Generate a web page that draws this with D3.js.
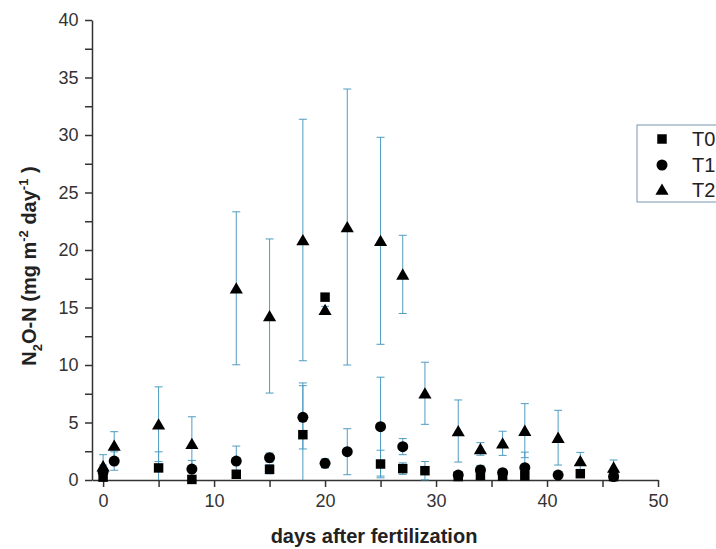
<!DOCTYPE html>
<html><head><meta charset="utf-8">
<script src="https://cdn.jsdelivr.net/npm/d3@7"></script>
<style>html,body{margin:0;padding:0;background:#fff;}</style>
</head><body>
<script>
const days = [0,1,5,8,12,15,18,20,22,25,27,29,32,34,36,38,41,43,46];
const T0 = [0.25,null,1.05,0.05,0.5,0.93,3.94,15.9,null,1.39,0.99,0.81,0.3,0.4,0.35,0.37,null,0.55,0.3];
const T0err = [0.3,null,1.4,0.1,0.3,0.4,4.5,0.2,null,1.2,0.5,0.8,0.3,0.3,0.3,0.3,null,0.2,0.2];
const T1 = [0.7,1.65,null,0.95,1.65,1.94,5.45,1.45,2.46,4.64,2.9,null,0.43,0.87,0.64,1.07,0.43,null,0.3];
const T1err = [0.6,0.8,null,0.75,1.3,0.4,2.75,0.4,2.0,4.3,0.7,null,0.3,0.4,0.3,1.35,0.3,null,0.2];
const T2 = [1.2,3.0,4.85,3.15,16.67,14.26,20.87,14.8,22.0,20.8,17.88,7.54,4.26,2.7,3.19,4.29,3.68,1.65,1.1];
const T2err = [1.0,1.2,3.25,2.35,6.65,6.7,10.5,0.3,12.0,9.0,3.4,2.7,2.7,0.55,1.05,2.35,2.38,0.75,0.64];
const seriesNames = ["T0","T1","T2"];
const xTicks = [0,10,20,30,40,50];
const yTicks = [0,5,10,15,20,25,30,35,40];

const W = 716, H = 549;
const svg = d3.select("body").append("svg").attr("width", W).attr("height", H)
  .style("font-family", "Arial, Liberation Sans, sans-serif");
const x = d3.scaleLinear().domain([-1, 50]).range([92, 658]);
const y = d3.scaleLinear().domain([0, 40]).range([480, 20]);
const axisColor = "#333";
const errColor = "#4f9cc2";

const symbols = [d3.symbolSquare, d3.symbolCircle, d3.symbolTriangle];
const symSizes = [90, 95, 75];
const series = [
  {name: "T0", vals: T0, errs: T0err},
  {name: "T1", vals: T1, errs: T1err},
  {name: "T2", vals: T2, errs: T2err}
];

// axes
const xAxis = d3.axisBottom(x).tickValues(d3.range(0, 51, 5)).tickSize(7).tickSizeOuter(0)
  .tickFormat(d => xTicks.includes(d) ? d : "");
const gx = svg.append("g").attr("transform", `translate(0,${y(0)})`).call(xAxis);
gx.select(".domain").attr("stroke", axisColor).attr("stroke-width", 1.5);
gx.selectAll(".tick line").attr("stroke", axisColor).attr("stroke-width", 1.5);
gx.selectAll(".tick text").attr("fill", axisColor).attr("font-size", 18).attr("dy", "0.95em");

const yAxis = d3.axisLeft(y).tickValues(d3.range(0, 40.1, 2.5)).tickSize(7).tickSizeOuter(0)
  .tickFormat(d => yTicks.includes(d) ? d : "");
const gy = svg.append("g").attr("transform", `translate(${x(-1)},0)`).call(yAxis);
gy.select(".domain").attr("stroke", axisColor).attr("stroke-width", 1.5);
gy.selectAll(".tick line").attr("stroke", axisColor).attr("stroke-width", 1.5);
gy.selectAll(".tick text").attr("fill", axisColor).attr("font-size", 18).attr("dx", "-0.2em");

// error bars (drawn first)
const cap = 4;
series.forEach(s => {
  days.forEach((d, i) => {
    const v = s.vals[i], e = s.errs[i];
    if (v == null || e == null) return;
    const lo = Math.max(0, v - e), hi = v + e;
    const g = svg.append("g").attr("stroke", errColor).attr("stroke-width", 1);
    g.append("line").attr("x1", x(d)).attr("x2", x(d)).attr("y1", y(lo)).attr("y2", y(hi));
    g.append("line").attr("x1", x(d) - cap).attr("x2", x(d) + cap).attr("y1", y(hi)).attr("y2", y(hi));
    if (v - e > 0)
      g.append("line").attr("x1", x(d) - cap).attr("x2", x(d) + cap).attr("y1", y(lo)).attr("y2", y(lo));
  });
});

// markers
series.forEach((s, si) => {
  const sym = d3.symbol().type(symbols[si]).size(symSizes[si]);
  days.forEach((d, i) => {
    const v = s.vals[i];
    if (v == null) return;
    const dy = si === 2 ? 1.5 : 0;
    svg.append("path").attr("d", sym()).attr("fill", "#000")
      .attr("transform", `translate(${x(d)},${y(v) + dy})`);
  });
});

// axis titles
svg.append("text").attr("x", 374).attr("y", 543).attr("text-anchor", "middle")
  .attr("font-size", 20).attr("font-weight", "bold").attr("fill", "#222")
  .text("days after fertilization");

const yt = svg.append("text").attr("transform", "translate(36,266) rotate(-90)")
  .attr("text-anchor", "middle").attr("font-size", 20).attr("font-weight", "bold").attr("fill", "#222");
yt.append("tspan").text("N");
yt.append("tspan").attr("font-size", 13).attr("dy", 6).text("2");
yt.append("tspan").attr("dy", -6).text("O-N (mg m");
yt.append("tspan").attr("font-size", 13).attr("dy", -8).text("-2");
yt.append("tspan").attr("dy", 8).text(" day");
yt.append("tspan").attr("font-size", 13).attr("dy", -8).text("-1");
yt.append("tspan").attr("dy", 8).text(" )");

// legend
const lg = svg.append("g");
lg.append("rect").attr("x", 637).attr("y", 125).attr("width", 100).attr("height", 77)
  .attr("fill", "none").attr("stroke", "#7a95b0").attr("stroke-width", 1);
const rowsY = [139, 165, 190];
seriesNames.forEach((n, i) => {
  lg.append("path").attr("d", d3.symbol().type(symbols[i]).size(symSizes[i])())
    .attr("fill", "#000").attr("transform", `translate(662,${rowsY[i] + (i === 2 ? 1 : 0)})`);
  lg.append("text").attr("x", 692).attr("y", rowsY[i]).attr("dy", "0.36em")
    .attr("font-size", 20).attr("fill", "#222").text(n);
});
</script>
</body></html>
